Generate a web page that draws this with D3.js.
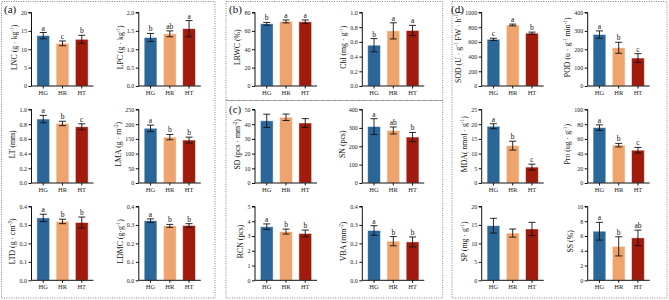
<!DOCTYPE html>
<html><head><meta charset="utf-8">
<script src="https://cdn.jsdelivr.net/npm/d3@7"></script>
<style>body{margin:0;background:#fff}svg{display:block;font-family:"Liberation Serif","Times New Roman",serif}</style>
</head><body><svg id="c" width="669" height="300"></svg>
<script>
const categories = ["HG","HR","HT"];
// (a)
const lncMean=[13.7,11.6,12.7], lncErr=[0.85,0.65,1.1], lncSig=["a","c","b"];
const lpcMean=[1.32,1.42,1.56], lpcErr=[0.11,0.08,0.22], lpcSig=["b","ab","a"];
const ltMean=[0.87,0.81,0.765], ltErr=[0.05,0.03,0.04], ltSig=["a","b","c"];
const lmaMean=[186,156,146], lmaErr=[11,9,10], lmaSig=["a","b","b"];
const ltdMean=[0.338,0.319,0.313], ltdErr=[0.02,0.012,0.03], ltdSig=["a","b","b"];
const ldmcMean=[0.323,0.295,0.297], ldmcErr=[0.01,0.008,0.01], ldmcSig=["a","b","b"];
// (b)
const lrwcMean=[67.7,70.3,69.9], lrwcErr=[1.5,1.6,2.0], lrwcSig=["b","a","a"];
const chlMean=[0.555,0.75,0.755], chlErr=[0.09,0.11,0.07], chlSig=["b","a","a"];
// (c)
const sdMean=[42.3,44.7,40.8], sdErr=[4.5,2.2,3.0], sdSig=["","",""];
const snMean=[307,286,250], snErr=[43,19,25], snSig=["a","ab","b"];
const rcnMean=[3.63,3.3,3.17], rcnErr=[0.19,0.17,0.23], rcnSig=["a","b","b"];
const vbaMean=[0.27,0.212,0.208], vbaErr=[0.026,0.025,0.027], vbaSig=["a","b","b"];
// (d)
const sodMean=[635,830,718], sodErr=[15,12,15], sodSig=["c","a","b"];
const podMean=[280,208,152], podErr=[20,30,24], podSig=["a","b","c"];
const mdaMean=[19.3,12.7,5.4], mdaErr=[0.85,1.5,1.0], mdaSig=["a","b","c"];
const proMean=[75.3,51.5,44.6], proErr=[3.8,2.4,3.8], proSig=["a","b","c"];
const spMean=[14.8,12.8,13.9], spErr=[2.0,1.1,1.8], spSig=["","",""];
const ssMean=[6.65,4.6,5.75], ssErr=[1.2,1.3,1.05], ssSig=["a","b","ab"];

const colors = ["#2b6699","#eea46c","#a11b0c"];

const plots = [
 {col:0,row:0,max:20,ticks:[0,5,10,15,20],fmt:"d",mean:lncMean,err:lncErr,sig:lncSig,label:[["LNC (g · kg"],["-1",1],[")"]]},
 {col:1,row:0,max:2,ticks:[0,0.5,1,1.5,2],fmt:".1f",mean:lpcMean,err:lpcErr,sig:lpcSig,label:[["LPC (g · kg"],["-1",1],[")"]]},
 {col:0,row:1,max:1,ticks:[0,0.2,0.4,0.6,0.8,1],fmt:".1f",mean:ltMean,err:ltErr,sig:ltSig,label:[["LT (mm)"]]},
 {col:1,row:1,max:250,ticks:[0,50,100,150,200,250],fmt:"d",mean:lmaMean,err:lmaErr,sig:lmaSig,label:[["LMA (g · m"],["-2",1],[")"]]},
 {col:0,row:2,max:0.4,ticks:[0,0.1,0.2,0.3,0.4],fmt:".1f",mean:ltdMean,err:ltdErr,sig:ltdSig,label:[["LTD (g · cm"],["-3",1],[")"]]},
 {col:1,row:2,max:0.4,ticks:[0,0.1,0.2,0.3,0.4],fmt:".1f",mean:ldmcMean,err:ldmcErr,sig:ldmcSig,label:[["LDMC (g·g"],["-1",1],[")"]]},
 {col:2,row:0,max:80,ticks:[0,20,40,60,80],fmt:"d",mean:lrwcMean,err:lrwcErr,sig:lrwcSig,label:[["LRWC (%)"]]},
 {col:3,row:0,max:1,ticks:[0,0.2,0.4,0.6,0.8,1],fmt:".1f",mean:chlMean,err:chlErr,sig:chlSig,label:[["Chl (mg · g"],["-1",1],[")"]]},
 {col:2,row:1,max:50,ticks:[0,10,20,30,40,50],fmt:"d",mean:sdMean,err:sdErr,sig:sdSig,label:[["SD (pcs · mm"],["-2",1],[")"]]},
 {col:3,row:1,max:400,ticks:[0,100,200,300,400],fmt:"d",mean:snMean,err:snErr,sig:snSig,label:[["SN (pcs)"]]},
 {col:2,row:2,max:5,ticks:[0,1,2,3,4,5],fmt:"d",mean:rcnMean,err:rcnErr,sig:rcnSig,label:[["RCN (pcs)"]]},
 {col:3,row:2,max:0.4,ticks:[0,0.1,0.2,0.3,0.4],fmt:".1f",mean:vbaMean,err:vbaErr,sig:vbaSig,label:[["VBA (mm"],["-2",1],[")"]]},
 {col:4,row:0,max:1000,ticks:[0,200,400,600,800,1000],fmt:"d",mean:sodMean,err:sodErr,sig:sodSig,label:[["SOD (U · g"],["-1",1],[" FW · h"],["-1",1],[")"]]},
 {col:5,row:0,max:400,ticks:[0,100,200,300,400],fmt:"d",mean:podMean,err:podErr,sig:podSig,label:[["POD (u · g"],["-1",1],[" min"],["-1",1],[")"]]},
 {col:4,row:1,max:25,ticks:[0,5,10,15,20,25],fmt:"d",mean:mdaMean,err:mdaErr,sig:mdaSig,label:[["MDA( nmol · g"],["-1",1],[")"]]},
 {col:5,row:1,max:100,ticks:[0,20,40,60,80,100],fmt:"d",mean:proMean,err:proErr,sig:proSig,label:[["Pro (ug · g"],["-1",1],[")"]]},
 {col:4,row:2,max:20,ticks:[0,5,10,15,20],fmt:"d",mean:spMean,err:spErr,sig:spSig,label:[["SP (mg · g"],["-1",1],[")"]]},
 {col:5,row:2,max:10,ticks:[0,2,4,6,8,10],fmt:"d",mean:ssMean,err:ssErr,sig:ssSig,label:[["SS (%)"]]}
];

const colX=[31.5,138.8,255,362.3,481.7,587.7];
const rows=[{t:12.5,b:86},{t:109.5,b:183},{t:206.5,b:280.3}];
const axW=62;

const svg=d3.select("#c");

const boxes=[[1.5,1.5,215,298],[226,1.5,442.7,100.5],[226,100.5,442.7,298],[452,1.5,667,298]];
boxes.forEach(b=>{
  svg.append("rect").attr("x",b[0]).attr("y",b[1]).attr("width",b[2]-b[0]).attr("height",b[3]-b[1])
   .attr("fill","none").attr("stroke","#666").attr("stroke-width",0.8).attr("stroke-dasharray","1,1.4");
});
[["(a)",4,13],["(b)",229,13],["(c)",229,113],["(d)",451,13]].forEach(p=>{
  svg.append("text").attr("x",p[1]).attr("y",p[2]).attr("font-size",11).style("fill","#111").text(p[0]);
});

plots.forEach(p=>{
  const x0=colX[p.col], r=rows[p.row];
  const g=svg.append("g").attr("transform",`translate(${x0},0)`);
  const x=d3.scaleBand().domain(categories).range([0,axW]).paddingInner(0.34).paddingOuter(0.28);
  const y=d3.scaleLinear().domain([0,p.max]).range([r.b,r.t]);
  const fmt=d3.format(p.fmt);
  g.selectAll("rect.bar").data(categories).enter().append("rect").attr("class","bar")
    .attr("x",d=>x(d)).attr("width",x.bandwidth())
    .attr("y",(d,i)=>y(p.mean[i])).attr("height",(d,i)=>r.b-y(p.mean[i]))
    .style("fill",(d,i)=>colors[i]).attr("stroke","rgba(255,255,255,0.55)").attr("stroke-width",0.8);
  const eg=g.selectAll("g.err").data(categories).enter().append("g").attr("class","err")
    .style("stroke","#111").attr("stroke-width",0.9);
  eg.append("line").attr("x1",d=>x(d)+x.bandwidth()/2).attr("x2",d=>x(d)+x.bandwidth()/2)
    .attr("y1",(d,i)=>y(p.mean[i]+p.err[i])).attr("y2",(d,i)=>y(p.mean[i]-p.err[i]));
  [1,-1].forEach(s=>{
    eg.append("line").attr("x1",d=>x(d)+x.bandwidth()/2-3.5).attr("x2",d=>x(d)+x.bandwidth()/2+3.5)
      .attr("y1",(d,i)=>y(p.mean[i]+s*p.err[i])).attr("y2",(d,i)=>y(p.mean[i]+s*p.err[i]));
  });
  g.selectAll("text.sig").data(categories).enter().append("text").attr("class","sig")
    .attr("x",d=>x(d)+x.bandwidth()/2).attr("y",(d,i)=>y(p.mean[i]+p.err[i])-2)
    .attr("text-anchor","middle").attr("font-size",7.5).style("fill","#111").text((d,i)=>p.sig[i]);
  const ya=g.append("g").call(d3.axisLeft(y).tickValues(p.ticks).tickFormat(fmt).tickSize(3).tickPadding(1.5));
  ya.select(".domain").attr("stroke","#111").attr("stroke-width",1).attr("d",`M-3,${r.t}H0V${r.b}`);
  ya.selectAll(".tick line").attr("stroke","#111");
  ya.selectAll(".tick text").attr("font-family","Liberation Serif").attr("font-size",6).style("fill","#222");
  let maxW=0;
  ya.selectAll(".tick text").each(function(){maxW=Math.max(maxW,this.getComputedTextLength());});
  const xa=g.append("g").attr("transform",`translate(0,${r.b})`).call(d3.axisBottom(x).tickSize(2.5).tickPadding(2));
  xa.select(".domain").attr("stroke","#111").attr("stroke-width",1).attr("d",`M0,0H${axW}`);
  xa.selectAll(".tick line").attr("stroke","#111");
  xa.selectAll(".tick text").attr("font-family","Liberation Serif").attr("font-size",6.5).style("fill","#222");
  const lx=-(3+1.5+maxW+4.2);
  const t=g.append("text").attr("transform",`translate(${lx},${(r.t+r.b)/2-2}) rotate(-90)`)
    .attr("text-anchor","middle").attr("font-size",7.8).style("fill","#111");
  p.label.forEach((s,k)=>{
    const ts=t.append("tspan").text(s[0]);
    if(s[1]){ts.attr("font-size",5.2).attr("dy",-3);}
    else if(k>0){ts.attr("dy",3);}
  });
});
</script></body></html>
